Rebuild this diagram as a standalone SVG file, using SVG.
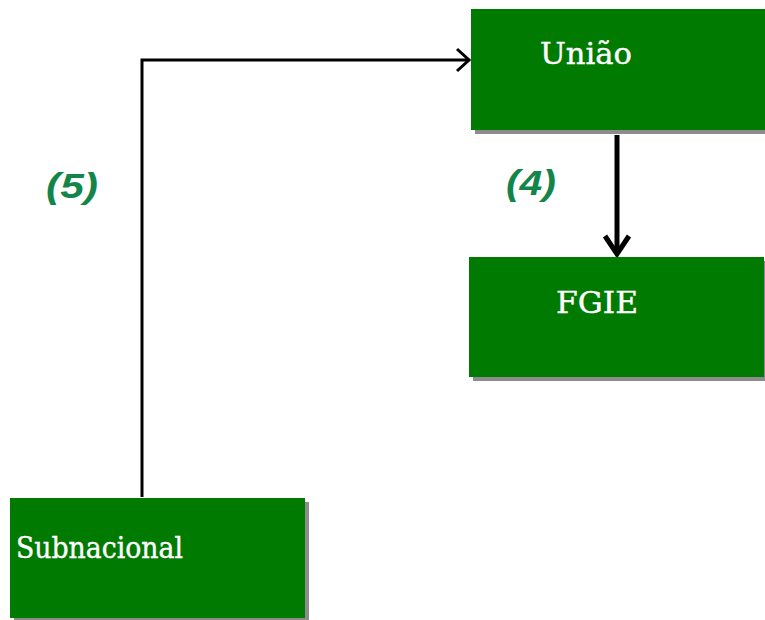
<svg xmlns="http://www.w3.org/2000/svg" width="765" height="620" viewBox="0 0 765 620">
<style>
.box{fill:#007a00}
.sh{fill:#8c8c8c}
.t{font-family:"DejaVu Serif","Liberation Serif",serif;font-size:30px;fill:#fff;stroke:#fff;stroke-width:0.4}
.n{font-family:"Liberation Sans",sans-serif;font-style:italic;font-weight:bold;font-size:35px;fill:#13854a}
.c{fill:none;stroke:#000;stroke-linecap:butt}
</style>
<defs>
<marker id="ah" markerWidth="16" markerHeight="26" refX="14" refY="13" orient="auto" markerUnits="userSpaceOnUse">
<path d="M2,2 L14,13 L2,24" fill="none" stroke="#000" stroke-width="3"/>
</marker>
<marker id="ah2" markerWidth="24" markerHeight="30" refX="21" refY="15" orient="auto" markerUnits="userSpaceOnUse">
<path d="M3,3 L21,15 L3,27" fill="none" stroke="#000" stroke-width="5"/>
</marker>
</defs>
<g id="connectors">
<path class="c" d="M142,497 V60 H469" stroke-width="3" marker-end="url(#ah)"/>
<path class="c" d="M617,135 V254" stroke-width="5" marker-end="url(#ah2)"/>
</g>
<g id="uniao">
<rect class="sh" x="475" y="13" width="294" height="121"/>
<rect class="box" x="471" y="9" width="294" height="121"/>
<text class="t" x="540" y="64" textLength="92" lengthAdjust="spacingAndGlyphs">União</text>
</g>
<g id="fgie">
<rect class="sh" x="473" y="261" width="295" height="120"/>
<rect class="box" x="469" y="257" width="295" height="120"/>
<text class="t" x="556" y="313" textLength="82" lengthAdjust="spacingAndGlyphs">FGIE</text>
</g>
<g id="subnacional">
<rect class="sh" x="14" y="502" width="295" height="120"/>
<rect class="box" x="10" y="498" width="295" height="120"/>
<text class="t" x="16" y="558" textLength="167" lengthAdjust="spacingAndGlyphs">Subnacional</text>
</g>
<g id="label5"><text class="n" x="46" y="198" textLength="52" lengthAdjust="spacingAndGlyphs">(5)</text></g>
<g id="label4"><text class="n" x="506" y="195" textLength="50" lengthAdjust="spacingAndGlyphs">(4)</text></g>
</svg>
